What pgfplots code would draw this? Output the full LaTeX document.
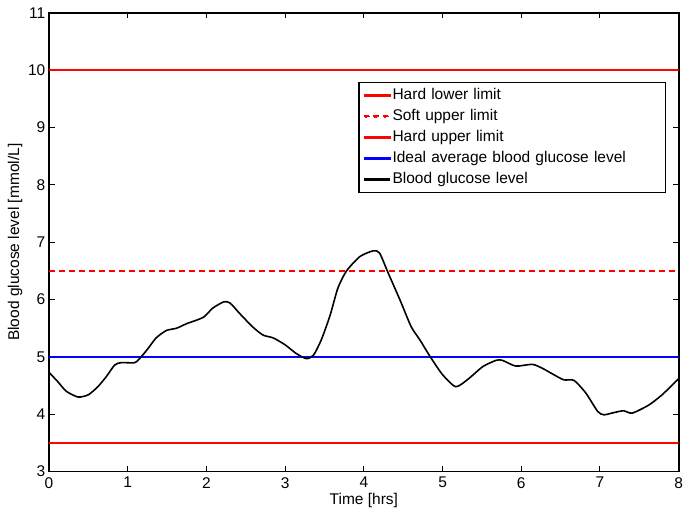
\documentclass[border=0pt]{standalone}
\usepackage{fontspec}
\setmainfont{Liberation Sans}
\usepackage{pgfplots}
\pgfplotsset{compat=1.18}
\pgfplotsset{
  legsolid/.style={legend image code/.code={\fill[##1] (0pt,-0.7pt) rectangle (25pt,0.7pt);}},
  legdash/.style={legend image code/.code={%
    \fill[red] (0pt,-0.7pt) rectangle (5pt,0.7pt);
    \fill[red] (9.5pt,-0.7pt) rectangle (14.5pt,0.7pt);
    \fill[red] (19pt,-0.7pt) rectangle (24pt,0.7pt);}},
}

\begin{document}
\fontsize{15.5}{18}\selectfont
\begin{tikzpicture}
\begin{axis}[
  legsolid,
  scale only axis,width=630pt,height=459pt,
  xmin=0,xmax=8,ymin=3,ymax=11,
  xtick={0,1,...,8},ytick={3,4,...,11},
  tick align=inside,major tick length=5.5pt,
  tick style={black,line width=1pt},
  axis line style={line width=1.75pt},
  xlabel={Time [hrs]},ylabel={Blood glucose level [mmol/L]},
  xlabel style={at={(axis description cs:0.5,0)},anchor=north,yshift=-21.5pt,
    inner ysep=0pt,text depth=4pt},
  ylabel style={at={(axis description cs:0,0.5)},anchor=south,yshift=18.4pt,inner ysep=8pt},
  xticklabel style={yshift=-5.5pt,inner xsep=0pt,inner ysep=0pt},
  yticklabel style={inner ysep=7.5pt,inner xsep=3.5pt},
  /pgf/number format/assume math mode=true,
  legend style={at={(0.4905,0.8497)},anchor=north west,draw=black,line width=1.7pt,
    font=\fontsize{15.5}{18}\selectfont,inner xsep=5pt,inner ysep=2.5pt,row sep=0pt,
    nodes={text width=266pt,text height=11.5pt,text depth=3.5pt,inner ysep=3pt},
    /tikz/every odd column/.style={column sep=0pt},
    legend cell align=left},
]
\addplot[red,line width=1.81pt,opacity=0.99] coordinates {(0,3.5) (8,3.5)};
\addplot[red,line width=1.82pt,dash pattern=on 6pt off 4pt,legdash] coordinates {(0,6.5) (8,6.5)};
\addplot[red,line width=1.83pt,opacity=0.99] coordinates {(0,10) (8,10)};
\addplot[blue,line width=1.84pt,opacity=0.99] coordinates {(0,5) (8,5)};
\addplot[black,line width=1.6pt,smooth,tension=0.4] coordinates {
 (0,4.73) (0.11,4.57) (0.22,4.40) (0.37,4.30) (0.50,4.34) (0.62,4.48)
 (0.73,4.66) (0.835,4.86) (0.92,4.90) (1.09,4.90) (1.17,5.00) (1.26,5.15)
 (1.36,5.33) (1.49,5.46) (1.62,5.50) (1.75,5.58) (1.96,5.69) (2.08,5.85)
 (2.22,5.96) (2.30,5.94) (2.42,5.76) (2.59,5.52) (2.72,5.38) (2.85,5.33)
 (3.00,5.21) (3.14,5.06) (3.27,4.97) (3.36,5.03) (3.46,5.30) (3.57,5.72)
 (3.67,6.20) (3.78,6.50) (3.95,6.75) (4.12,6.85) (4.20,6.81) (4.31,6.46)
 (4.46,5.99) (4.60,5.53) (4.71,5.30) (4.84,5.01) (5.00,4.69) (5.17,4.48)
 (5.34,4.63) (5.51,4.83) (5.68,4.94) (5.76,4.94) (5.93,4.84) (6.14,4.87)
 (6.27,4.80) (6.40,4.70) (6.54,4.60) (6.67,4.59) (6.82,4.37) (6.97,4.05)
 (7.05,3.99) (7.18,4.03) (7.30,4.06) (7.41,4.02) (7.62,4.16) (7.79,4.34)
 (8.00,4.62)
};
\legend{Hard lower limit,Soft upper limit,Hard upper limit,Ideal average blood glucose level,Blood glucose level}
\end{axis}
\end{tikzpicture}
\end{document}
